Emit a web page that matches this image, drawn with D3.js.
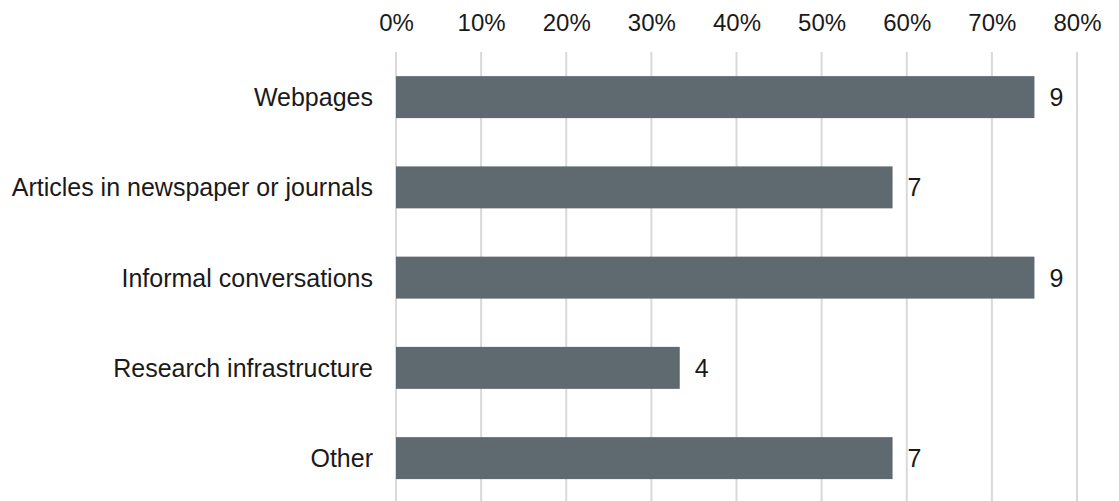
<!DOCTYPE html>
<html>
<head>
<meta charset="utf-8">
<script src="https://cdn.jsdelivr.net/npm/d3@7"></script>
<style>
  html, body { margin: 0; padding: 0; background: #fff; }
  svg { display: block; font-family: "Liberation Sans", Arial, sans-serif; }
</style>
</head>
<body>
<svg id="chart" width="1119" height="501"></svg>
<script>
// survey answers: how respondents heard about it (n = 12)
const categories = ['Webpages', 'Articles in newspaper or journals', 'Informal conversations', 'Research infrastructure', 'Other'];
const counts = [9, 7, 9, 4, 7];
const respondents = 12;
const tickValues = [0, 0.1, 0.2, 0.3, 0.4, 0.5, 0.6, 0.7, 0.8];

const svg = d3.select('#chart');
const margin = { top: 52, left: 396, right: 42 };
const width = +svg.attr('width');
const height = +svg.attr('height');

const x = d3.scaleLinear()
  .domain([0, 0.8])
  .range([margin.left, width - margin.right]);

const y = d3.scaleBand()
  .domain(categories)
  .range([margin.top, 503.25])
  .paddingInner(0.535)
  .paddingOuter(0.2675);

// vertical gridlines
svg.append('g')
  .selectAll('line')
  .data(tickValues)
  .enter().append('line')
  .attr('x1', d => x(d))
  .attr('x2', d => x(d))
  .attr('y1', margin.top)
  .attr('y2', height)
  .attr('stroke', '#d9d9d9')
  .attr('stroke-width', 2);

// top axis labels
const xAxis = svg.append('g')
  .attr('transform', `translate(0, 31)`)
  .call(d3.axisTop(x).tickValues(tickValues).tickFormat(d3.format('.0%')).tickSize(0).tickPadding(0));
xAxis.select('.domain').remove();
xAxis.selectAll('text')
  .attr('font-size', 24)
  .attr('font-family', '"Liberation Sans", Arial, sans-serif')
  .attr('fill', '#1a1a1a')
  .attr('dy', 0);

// bars
svg.append('g')
  .selectAll('rect')
  .data(categories)
  .enter().append('rect')
  .attr('x', x(0))
  .attr('y', d => y(d))
  .attr('width', (d, i) => x(counts[i] / respondents) - x(0))
  .attr('height', y.bandwidth())
  .attr('fill', '#5e6a6f');

// count labels
svg.append('g')
  .selectAll('text')
  .data(categories)
  .enter().append('text')
  .attr('x', (d, i) => x(counts[i] / respondents) + 15)
  .attr('y', d => y(d) + y.bandwidth() / 2)
  .attr('dy', '0.36em')
  .attr('font-size', 25)
  .attr('fill', '#1a1a1a')
  .text((d, i) => counts[i]);

// category labels
svg.append('g')
  .selectAll('text')
  .data(categories)
  .enter().append('text')
  .attr('x', margin.left - 23)
  .attr('y', d => y(d) + y.bandwidth() / 2)
  .attr('dy', '0.36em')
  .attr('text-anchor', 'end')
  .attr('font-size', 25)
  .attr('fill', '#1a1a1a')
  .text(d => d);
</script>
</body>
</html>
